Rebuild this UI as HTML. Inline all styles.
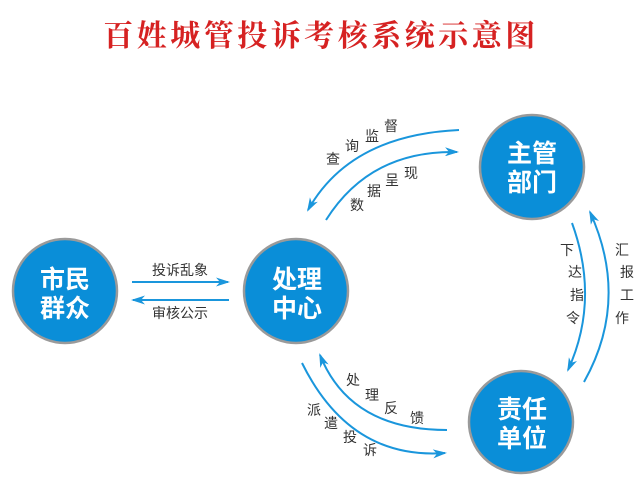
<!DOCTYPE html>
<html><head><meta charset="utf-8"><style>
html,body{margin:0;padding:0;background:#fff;width:640px;height:486px;overflow:hidden}
svg{display:block}
.t{font-family:"Liberation Sans","Noto Sans CJK SC",sans-serif;font-size:14px;fill:#333}
.c{font-family:"Liberation Sans","Noto Sans CJK SC",sans-serif;font-size:25px;font-weight:bold;fill:#fff}
</style></head><body>
<svg width="640" height="486" viewBox="0 0 640 486" xmlns="http://www.w3.org/2000/svg">
<defs>
<marker id="a" markerWidth="14" markerHeight="9" refX="12" refY="4.5" orient="auto" markerUnits="userSpaceOnUse">
<path d="M0,0 L14,4.5 L0,9 L4,4.5 Z" fill="#1a96dc"/></marker>
</defs>
<text x="321" y="46" text-anchor="middle" font-family="'Liberation Serif','Noto Serif CJK SC',serif" font-size="30" font-weight="bold" fill="#d62222" letter-spacing="3.5">百姓城管投诉考核系统示意图</text>

<g stroke="#1a96dc" stroke-width="2" fill="none">
<line x1="132" y1="282" x2="228" y2="282" marker-end="url(#a)"/>
<line x1="229" y1="300" x2="133" y2="300" marker-end="url(#a)"/>
<path d="M459,130 Q350,135 308,210" marker-end="url(#a)"/>
<path d="M326,220 Q370,150 457,152" marker-end="url(#a)"/>
<path d="M572,223 Q600,300 568,370" marker-end="url(#a)"/>
<path d="M584,382 Q630,300 590,212" marker-end="url(#a)"/>
<path d="M447,430 Q350,430 320,355" marker-end="url(#a)"/>
<path d="M302,363 Q350,460 445,453" marker-end="url(#a)"/>
</g>

<g stroke="#9a9a9a" stroke-width="2.5" fill="#0a8ed8">
<ellipse cx="65" cy="291" rx="52" ry="52"/>
<ellipse cx="296" cy="291" rx="52" ry="52"/>
<ellipse cx="532" cy="167" rx="52" ry="52"/>
<ellipse cx="521" cy="422" rx="52" ry="51"/>
</g>
<g class="c" text-anchor="middle">
<text x="65" y="288">市民</text><text x="65" y="317">群众</text>
<text x="297" y="288">处理</text><text x="297" y="317">中心</text>
<text x="532" y="162">主管</text><text x="532" y="191">部门</text>
<text x="522" y="418">责任</text><text x="522" y="447">单位</text>
</g>

<g class="t" text-anchor="middle">
<text x="180" y="275">投诉乱象</text>
<text x="180" y="318">审核公示</text>
<text x="333" y="164">查</text><text x="352" y="151">询</text><text x="372" y="141">监</text><text x="391" y="131">督</text>
<text x="357" y="210">数</text><text x="374" y="196">据</text><text x="392" y="185">呈</text><text x="411" y="178">现</text>
<text x="567" y="255">下</text><text x="575" y="277">达</text><text x="577" y="300">指</text><text x="573" y="323">令</text>
<text x="622" y="255">汇</text><text x="627" y="277">报</text><text x="627" y="300">工</text><text x="622" y="323">作</text>
<text x="353" y="385">处</text><text x="372" y="400">理</text><text x="391" y="413">反</text><text x="417" y="423">馈</text>
<text x="314" y="415">派</text><text x="331" y="428">遣</text><text x="350" y="442">投</text><text x="370" y="455">诉</text>
</g>
</svg>
</body></html>
